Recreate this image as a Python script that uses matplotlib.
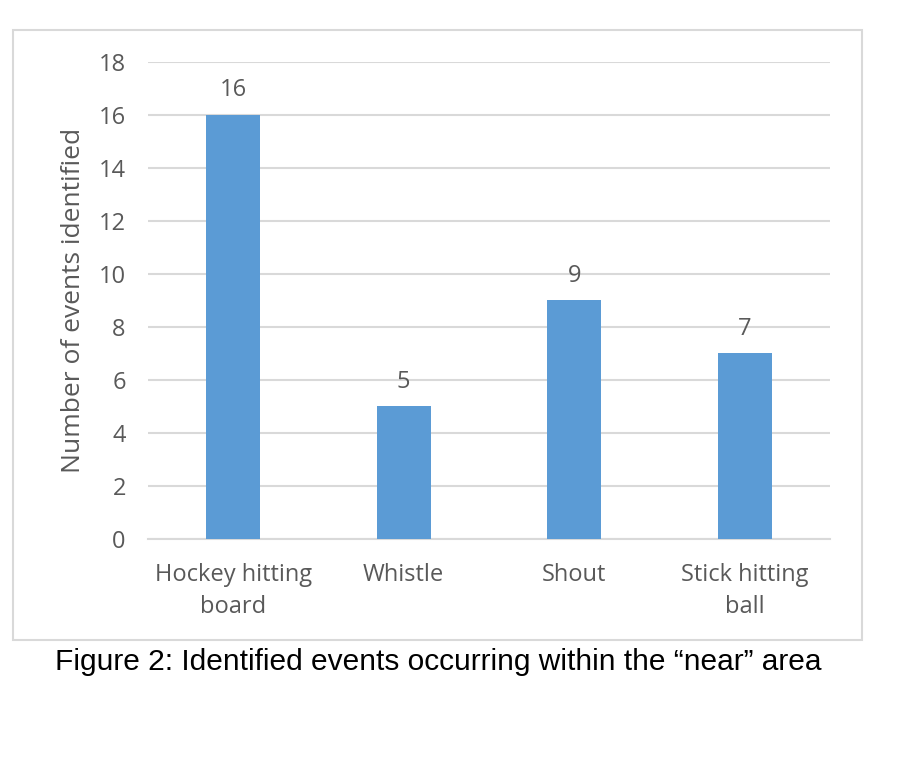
import matplotlib
matplotlib.use("Agg")
import matplotlib.pyplot as plt
from matplotlib.patches import Rectangle

categories = ["Hockey hitting\nboard", "Whistle", "Shout", "Stick hitting\nball"]
values = [16, 5, 9, 7]
yticks = [0, 2, 4, 6, 8, 10, 12, 14, 16, 18]

bar_color = "#5B9BD5"
text_color = "#595959"
grid_color = "#D9D9D9"
font = ["Open Sans", "DejaVu Sans"]

fig = plt.figure(figsize=(9.14, 7.57), dpi=100)
ax = fig.add_axes([0.1619, 0.2880, 0.7462, 0.6301])

x = list(range(len(categories)))
bars = ax.bar(x, values, width=0.316, color=bar_color, zorder=3)
ax.set_xlim(-0.5, len(categories) - 0.5)
ax.set_ylim(0, 18)
ax.set_yticks(yticks)
ax.set_yticklabels([str(t) for t in yticks], family=font, fontsize=17, color=text_color)
ax.set_xticks(x)
ax.set_xticklabels(categories, family=font, fontsize=17, color=text_color, linespacing=1.45)
ax.tick_params(axis="both", length=0)
ax.tick_params(axis="y", pad=16)
ax.tick_params(axis="x", pad=17)
ax.grid(axis="y", color=grid_color, linewidth=1.5, zorder=0)
for s in ["top", "right", "left"]:
    ax.spines[s].set_visible(False)
ax.spines["bottom"].set_color(grid_color)
ax.spines["bottom"].set_linewidth(1.5)

for xi, v in zip(x, values):
    ax.annotate(str(v), (xi, v), xytext=(0, 9), textcoords="offset points",
                ha="center", va="bottom", family=font, fontsize=17, color=text_color)

ax.set_ylabel("Number of events identified", family=font, fontsize=19, color=text_color, labelpad=9)

# Outer chart border
fig.patches.append(Rectangle((12.5 / 914, 1 - 640 / 757), (862 - 12.5) / 914, (640 - 30) / 757,
                             transform=fig.transFigure, fill=False, edgecolor=grid_color, linewidth=1.5))

fig.text(438.5 / 914, 1 - 662 / 757, "Figure 2: Identified events occurring within the \u201cnear\u201d area",
         family=["Liberation Sans", "DejaVu Sans"], fontsize=21.5, color="black", ha="center", va="center")

fig.savefig("out.png", dpi=100)
